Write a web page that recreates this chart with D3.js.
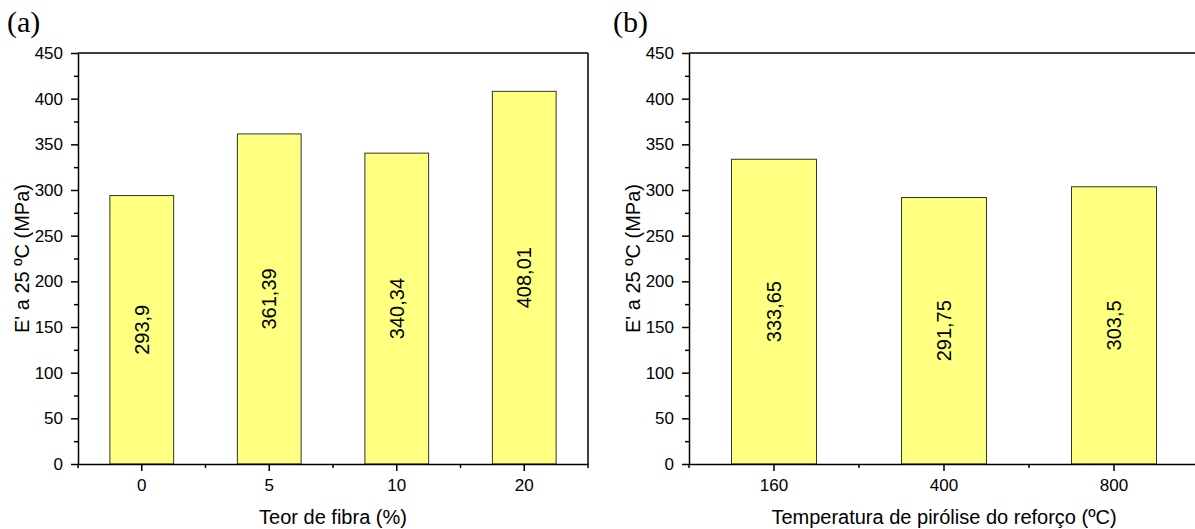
<!DOCTYPE html>
<html>
<head>
<meta charset="utf-8">
<script src="https://cdn.jsdelivr.net/npm/d3@7"></script>
<style>
  html, body { margin: 0; padding: 0; background: #fff; }
  svg { display: block; font-family: Arial, "Liberation Sans", sans-serif; }
</style>
</head>
<body>
<svg id="chart" width="1195" height="529"></svg>
<script>
// Storage modulus E' at 25 °C — panel (a): fibre content, panel (b): pyrolysis temperature
const fiberCategories = ["0", "5", "10", "20"];
const fiberValues = [293.9, 361.39, 340.34, 408.01];
const fiberLabels = ["293,9", "361,39", "340,34", "408,01"];

const tempCategories = ["160", "400", "800"];
const tempValues = [333.65, 291.75, 303.5];
const tempLabels = ["333,65", "291,75", "303,5"];

const yMajorTicks = [0, 50, 100, 150, 200, 250, 300, 350, 400, 450];
const yMinorTicks = [25, 75, 125, 175, 225, 275, 325, 375, 425];

const yTitle = "E' a 25 ºC (MPa)";
const panels = [
  { tag: "(a)", tagX: 7, left: 78, cats: fiberCategories, vals: fiberValues, labels: fiberLabels, xTitle: "Teor de fibra (%)" },
  { tag: "(b)", tagX: 613, left: 689, cats: tempCategories, vals: tempValues, labels: tempLabels, xTitle: "Temperatura de pirólise do reforço (ºC)" }
];

const svg = d3.select("#chart");
const plotTop = 53, plotBottom = 464, plotW = 510;
const barFill = "#ffff80";

panels.forEach(p => {
  const g = svg.append("g");
  const x = d3.scaleBand().domain(p.cats).range([p.left, p.left + plotW]).paddingInner(0.5).paddingOuter(0.25);
  const xb = d3.scaleBand().domain(p.cats).range([p.left, p.left + plotW]);
  const y = d3.scaleLinear().domain([0, 450]).range([plotBottom, plotTop]);

  // bars
  g.selectAll("rect.bar").data(p.vals).join("rect")
    .attr("class", "bar")
    .attr("x", (d, i) => x(p.cats[i]))
    .attr("width", x.bandwidth())
    .attr("y", d => y(d))
    .attr("height", d => y(0) - y(d))
    .attr("fill", barFill)
    .attr("stroke", "#333")
    .attr("stroke-width", 1);

  // value labels, rotated and centred in each bar
  g.selectAll("text.val").data(p.vals).join("text")
    .attr("class", "val")
    .attr("transform", (d, i) => {
      const cx = x(p.cats[i]) + x.bandwidth() / 2;
      const cy = (y(d) + y(0)) / 2;
      return `translate(${cx},${cy}) rotate(-90)`;
    })
    .attr("text-anchor", "middle")
    .attr("dy", "0.35em")
    .attr("font-size", 20)
    .attr("fill", "#000")
    .text((d, i) => p.labels[i]);

  // frame: top and right
  g.append("line").attr("x1", p.left).attr("x2", p.left + plotW).attr("y1", plotTop).attr("y2", plotTop)
    .attr("stroke", "#000").attr("stroke-width", 1.5);
  g.append("line").attr("x1", p.left + plotW).attr("x2", p.left + plotW).attr("y1", plotTop).attr("y2", plotBottom)
    .attr("stroke", "#000").attr("stroke-width", 1.5);

  // y axis: major + minor ticks
  const yAxis = g.append("g").attr("transform", `translate(${p.left},0)`)
    .call(d3.axisLeft(y).tickValues(yMajorTicks).tickSize(7).tickPadding(8).tickSizeOuter(0).tickFormat(d3.format("d")));
  g.append("g").attr("transform", `translate(${p.left},0)`)
    .call(d3.axisLeft(y).tickValues(yMinorTicks).tickSize(4).tickSizeOuter(0).tickFormat(""))
    .call(s => s.select(".domain").remove());

  // x axis: major ticks at category centres, minor ticks at band edges
  const xAxis = g.append("g").attr("transform", `translate(0,${plotBottom})`)
    .call(d3.axisBottom(x).tickSize(7).tickPadding(8).tickSizeOuter(0));
  const edges = p.cats.map(c => xb(c)).concat([p.left + plotW]);
  g.selectAll("line.minorx").data(edges).join("line")
    .attr("class", "minorx")
    .attr("x1", d => d).attr("x2", d => d)
    .attr("y1", plotBottom).attr("y2", plotBottom + 4)
    .attr("stroke", "#000").attr("stroke-width", 1.5);

  [yAxis, xAxis].forEach(a => {
    a.selectAll(".domain").attr("stroke", "#000").attr("stroke-width", 1.5);
    a.selectAll(".tick text").attr("font-size", 17).attr("fill", "#000")
      .attr("font-family", "Arial, 'Liberation Sans', sans-serif");
  });
  g.selectAll(".tick line").attr("stroke", "#000").attr("stroke-width", 1.5);

  // axis titles
  g.append("text")
    .attr("x", p.left + plotW / 2)
    .attr("y", 524)
    .attr("text-anchor", "middle")
    .attr("font-size", 20)
    .text(p.xTitle);
  g.append("text")
    .attr("transform", `translate(${p.left - 49},${(plotTop + plotBottom) / 2}) rotate(-90)`)
    .attr("text-anchor", "middle")
    .attr("font-size", 20)
    .text(yTitle);

  // panel tag
  g.append("text")
    .attr("x", p.tagX).attr("y", 32)
    .attr("font-family", "'Times New Roman', 'Liberation Serif', serif")
    .attr("font-size", 30)
    .text(p.tag);
});
</script>
</body>
</html>
